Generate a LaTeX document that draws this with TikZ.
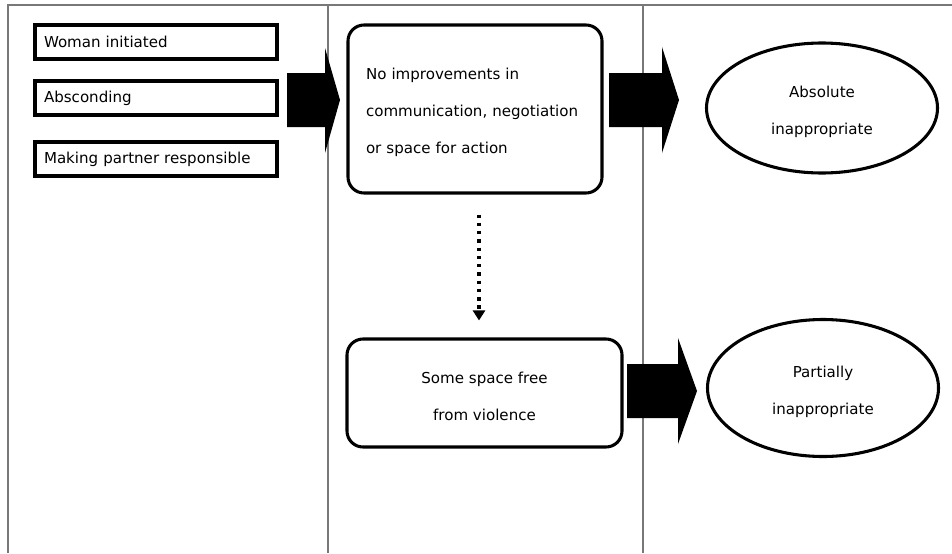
\documentclass[tikz,border=0pt]{standalone}
\usepackage{fontspec}
\setmainfont{DejaVu Sans}
\usetikzlibrary{arrows.meta,shapes.geometric}
\definecolor{framegray}{RGB}{120,120,120}
\newcommand{\toppad}{\rule{0pt}{14pt}}
\begin{document}
\begin{tikzpicture}[x=0.75pt,y=-0.75pt,
  txt/.style={font=\fontsize{11.3}{27.75}\selectfont},
  frameline/.style={draw=framegray,line width=1.1pt},
  lbox/.style={txt,draw,line width=2.3pt,minimum width=181.5pt,minimum height=25.5pt,
    text width=168pt,inner xsep=6.75pt,align=left},
  rbox/.style={txt,draw,line width=2.3pt,rounded corners=12pt,inner sep=0pt},
  oval/.style={txt,draw,ellipse,line width=2.3pt,inner sep=0pt,align=center},
  blockarrow/.style={fill=black},
  dotarrow/.style={line width=2.5pt,dash pattern=on 2.5pt off 3.7pt,
    -{Triangle[width=9pt,length=7.5pt]}}
]
\useasboundingbox (0,0) rectangle (952,553);
% frame
\draw[frameline] (8,553) -- (8,5) -- (952,5);
\draw[frameline] (328,5) -- (328,553);
\draw[frameline] (643,5) -- (643,553);
% left column
\node[lbox] (w1) at (156,42) {Woman initiated};
\node[lbox] (w2) at (156,98) {Absconding};
\node[lbox] (w3) at (156,159) {Making partner responsible};
% middle column
\node[rbox,minimum width=190.5pt,minimum height=126pt,text width=163.5pt,align=left]
  (r1) at (475,109) {\toppad No improvements in\\communication, negotiation\\or space for action};
\node[rbox,minimum width=206.25pt,minimum height=81pt,align=center]
  (r2) at (484.5,393) {\toppad Some space free\\from violence};
% right column
\node[oval,minimum width=173.25pt,minimum height=97.5pt] (e1) at (822,108) {\toppad Absolute\\inappropriate};
\node[oval,minimum width=173.25pt,minimum height=102.75pt] (e2) at (823,388) {\toppad Partially\\inappropriate};
% block arrows
\fill[blockarrow] (287,73) -- (325,73) -- (325,48) -- (340,100) -- (325,153) -- (325,127) -- (287,127) -- cycle;
\fill[blockarrow] (609,73) -- (662,73) -- (662,47) -- (679,100) -- (662,153) -- (662,127) -- (609,127) -- cycle;
\fill[blockarrow] (627,364) -- (678,364) -- (678,338) -- (697,391) -- (678,444) -- (678,418) -- (627,418) -- cycle;
% dotted arrow
\coordinate (dx) at (479,0);
\draw[dotarrow,shorten <=15pt,shorten >=12.75pt] (r1.south -| dx) -- (r2.north -| dx);
\end{tikzpicture}
\end{document}
